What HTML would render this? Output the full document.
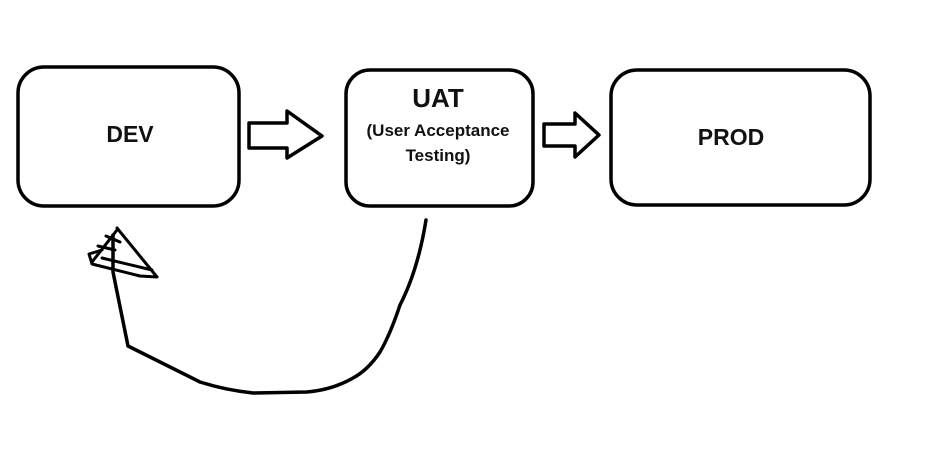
<!DOCTYPE html>
<html><head><style>
html,body{margin:0;padding:0;background:#fff;}
body{width:944px;height:448px;overflow:hidden;}
text{font-family:"Comic Sans MS","Liberation Sans",sans-serif;font-weight:bold;fill:#111;}
</style></head><body>
<svg width="944" height="448" viewBox="0 0 944 448" xmlns="http://www.w3.org/2000/svg">
<g fill="none" stroke="#000" stroke-width="3.5" stroke-linejoin="round" stroke-linecap="round">
<rect x="18" y="67" width="221" height="139" rx="26"/>
<rect x="346" y="70" width="187" height="136" rx="24"/>
<rect x="611" y="70" width="259" height="135" rx="26"/>
<path d="M249,123 L287,123 L287,111 L322,136 L287,158 L287,148 L249,148 Z"/>
<path d="M544,124 L575,124 L575,113 L599,135 L575,157 L575,146 L544,146 Z"/>
<path d="M426,220 Q418,270 400,305 Q390,335 380,352 Q368,370 353,378 Q332,390 307,392 L253,393 Q225,390 200,382 L128,346 L113,272 L113,235"/>
<path d="M117,228 L157,277 L140,276 L92,264 L89,254 L102,250 M98,246 L115,250 M113,240 L113,268 M102,258 L152,270 M117,230 L92,262 M106,236 L120,242" stroke-width="3"/>
</g>
<text x="130" y="142" font-size="23" text-anchor="middle">DEV</text>
<text x="438" y="107" font-size="26" text-anchor="middle">UAT</text>
<text x="438" y="136" font-size="17" text-anchor="middle">(User Acceptance</text>
<text x="438" y="161" font-size="17" text-anchor="middle">Testing)</text>
<text x="731" y="145" font-size="23" text-anchor="middle">PROD</text>
</svg>
</body></html>
